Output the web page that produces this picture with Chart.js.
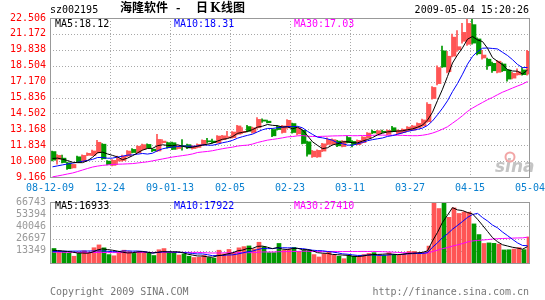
<!DOCTYPE html>
<html>
<head>
<meta charset="utf-8">
<script src="https://cdn.jsdelivr.net/npm/chart.js@4.4.0/dist/chart.umd.min.js"></script>
<style>
  html, body { margin: 0; padding: 0; background: #fff; }
  #wrap { position: relative; width: 545px; height: 300px; overflow: hidden; }
  canvas { position: absolute; left: 0; }
  #kline { top: 0; }
  #vol { top: 190px; }
</style>
</head>
<body>
<div id="wrap">
  <canvas id="kline" width="545" height="200"></canvas>
  <canvas id="vol" width="545" height="110"></canvas>
</div>
<script>
// tick labels
const xLabels = ['08-12-09', '12-24', '09-01-13', '02-05', '02-23', '03-11', '03-27', '04-15', '05-04'];
const priceTicks = [9.166, 10.500, 11.834, 13.168, 14.502, 15.836, 17.170, 18.504, 19.838, 21.172, 22.506];
const volTicks = [13349, 26697, 40046, 53394, 66743];

// daily candles, 96 trading days
const opens = [11.30, 10.65, 10.75, 10.36, 9.93, 10.86, 10.50, 10.98, 10.98, 11.20,
  11.92, 10.50, 10.14, 10.50, 10.55, 10.92, 11.48, 11.20, 11.48, 11.90,
  11.50, 11.35, 12.05, 12.05, 12.04, 11.55, 11.78, 11.88, 11.55, 11.65,
  11.85, 12.20, 12.18, 12.04, 12.30, 12.45, 12.47, 12.75, 12.90, 13.40,
  12.90, 13.30, 13.95, 13.85, 13.15, 13.40, 12.90, 13.30, 13.65, 12.78,
  13.08, 12.12, 10.86, 10.85, 11.34, 11.90, 11.95, 12.18, 11.72, 12.48,
  12.15, 11.88, 12.05, 12.45, 13.00, 12.80, 13.00, 12.75, 13.30, 12.80,
  12.90, 13.05, 13.10, 13.30, 13.45, 13.80, 15.75, 17.00, 19.75, 18.00,
  19.30, 19.85, 20.55, 20.30, 21.95, 20.75, 19.15, 19.05, 18.70, 17.95,
  18.65, 18.14, 17.46, 17.74, 18.15, 17.80];
const highs = [11.35, 11.05, 11.00, 10.42, 10.25, 10.92, 11.02, 11.20, 11.42, 12.25,
  11.98, 10.55, 10.62, 10.92, 11.00, 11.38, 11.55, 11.78, 11.92, 11.95,
  11.55, 12.75, 12.30, 12.10, 12.10, 11.80, 12.30, 11.92, 11.80, 11.95,
  12.28, 12.40, 12.35, 12.65, 12.66, 13.00, 12.98, 13.50, 13.32, 13.50,
  13.35, 14.15, 14.05, 13.95, 13.20, 13.50, 13.50, 13.98, 13.70, 13.35,
  13.10, 12.18, 11.40, 11.45, 12.00, 12.45, 12.36, 12.25, 12.22, 12.62,
  12.22, 12.28, 12.56, 12.90, 13.10, 13.08, 13.10, 13.12, 13.42, 13.12,
  13.20, 13.40, 13.50, 13.72, 14.02, 15.40, 16.75, 18.50, 20.15, 19.70,
  21.15, 21.45, 22.05, 22.50, 22.40, 20.85, 19.80, 19.15, 18.80, 18.95,
  18.75, 18.20, 17.95, 18.25, 18.35, 19.80];
const lows = [10.52, 10.25, 10.35, 9.80, 9.90, 10.38, 10.45, 10.95, 10.95, 11.15,
  10.65, 10.18, 10.10, 10.20, 10.50, 10.88, 11.18, 11.15, 11.40, 11.58,
  11.30, 11.30, 11.98, 11.58, 11.45, 11.50, 11.42, 11.55, 11.50, 11.60,
  11.80, 12.00, 12.00, 12.00, 12.25, 12.40, 12.42, 12.70, 12.80, 12.95,
  12.85, 13.25, 13.75, 13.70, 12.55, 13.10, 12.85, 13.25, 12.85, 12.70,
  11.94, 10.92, 10.80, 10.80, 11.30, 11.85, 11.90, 11.72, 11.68, 12.02,
  11.70, 11.85, 12.00, 12.40, 12.80, 12.75, 12.88, 12.72, 12.95, 12.75,
  12.85, 13.00, 13.05, 13.25, 13.40, 13.75, 15.70, 16.90, 18.36, 17.90,
  19.25, 19.70, 20.40, 20.20, 20.30, 19.40, 19.05, 18.20, 17.95, 17.90,
  18.00, 17.20, 17.40, 17.70, 17.70, 17.70];
const closes = [10.58, 10.98, 10.38, 9.86, 10.22, 10.42, 10.98, 11.15, 11.35, 12.08,
  10.70, 10.22, 10.56, 10.70, 10.92, 11.34, 11.22, 11.75, 11.88, 11.62,
  11.36, 12.32, 12.18, 11.62, 11.48, 11.76, 11.72, 11.60, 11.76, 11.90,
  12.24, 12.12, 12.05, 12.60, 12.62, 12.55, 12.94, 13.45, 13.00, 13.00,
  13.30, 14.00, 13.85, 13.72, 12.62, 13.15, 13.45, 13.92, 12.90, 13.28,
  11.98, 11.08, 11.34, 11.40, 11.95, 12.32, 12.30, 11.78, 12.18, 12.05,
  11.90, 12.24, 12.52, 12.85, 12.86, 13.05, 12.92, 13.08, 12.97, 13.08,
  13.17, 13.35, 13.45, 13.66, 13.95, 15.27, 16.68, 18.35, 18.40, 19.30,
  20.90, 20.10, 21.30, 22.05, 20.40, 19.50, 19.40, 18.50, 18.08, 18.88,
  18.08, 17.38, 17.86, 18.00, 17.75, 19.71];

// price moving averages
const ma5 = [10.72, 10.75, 10.66, 10.55, 10.40, 10.37, 10.37, 10.53, 10.82, 11.20,
  11.25, 11.10, 10.98, 10.85, 10.62, 10.75, 10.95, 11.19, 11.42, 11.56,
  11.57, 11.79, 11.87, 11.82, 11.79, 11.87, 11.75, 11.64, 11.66, 11.75,
  11.84, 11.92, 12.01, 12.18, 12.33, 12.39, 12.55, 12.83, 12.91, 12.99,
  13.14, 13.35, 13.43, 13.57, 13.50, 13.47, 13.36, 13.37, 13.21, 13.34,
  13.11, 12.63, 12.12, 11.82, 11.55, 11.62, 11.86, 11.95, 12.11, 12.13,
  12.04, 12.03, 12.18, 12.31, 12.47, 12.70, 12.84, 12.95, 12.98, 13.02,
  13.04, 13.13, 13.20, 13.34, 13.52, 13.94, 14.60, 15.58, 16.53, 17.60,
  18.73, 19.41, 20.00, 20.73, 20.95, 20.67, 20.53, 19.97, 19.18, 18.87,
  18.59, 18.18, 18.06, 18.04, 17.81, 18.14];
const ma10 = [10.02, 10.10, 10.18, 10.26, 10.33, 10.40, 10.48, 10.56, 10.64, 10.80,
  10.81, 10.74, 10.75, 10.84, 10.91, 11.00, 11.02, 11.08, 11.14, 11.09,
  11.16, 11.37, 11.53, 11.62, 11.68, 11.72, 11.77, 11.75, 11.74, 11.77,
  11.86, 11.84, 11.83, 11.92, 12.04, 12.12, 12.24, 12.42, 12.55, 12.66,
  12.76, 12.95, 13.13, 13.24, 13.24, 13.30, 13.35, 13.40, 13.39, 13.42,
  13.29, 13.00, 12.74, 12.51, 12.45, 12.36, 12.25, 12.03, 11.96, 11.84,
  11.83, 11.95, 12.06, 12.21, 12.30, 12.37, 12.44, 12.57, 12.64, 12.75,
  12.87, 12.99, 13.08, 13.16, 13.27, 13.49, 13.87, 14.39, 14.94, 15.56,
  16.33, 17.01, 17.79, 18.63, 19.28, 19.70, 19.97, 19.99, 19.95, 19.91,
  19.63, 19.36, 19.01, 18.61, 18.34, 18.36];
const ma30 = [9.18, 9.25, 9.33, 9.42, 9.50, 9.62, 9.75, 9.88, 10.00, 10.08,
  10.14, 10.18, 10.22, 10.24, 10.25, 10.27, 10.29, 10.34, 10.39, 10.44,
  10.52, 10.60, 10.68, 10.76, 10.84, 10.90, 10.96, 11.02, 11.10, 11.22,
  11.27, 11.31, 11.37, 11.46, 11.54, 11.61, 11.67, 11.76, 11.81, 11.84,
  11.93, 12.06, 12.16, 12.26, 12.32, 12.38, 12.45, 12.53, 12.56, 12.62,
  12.64, 12.59, 12.57, 12.56, 12.58, 12.59, 12.61, 12.62, 12.63, 12.64,
  12.63, 12.63, 12.65, 12.65, 12.66, 12.68, 12.68, 12.67, 12.67, 12.67,
  12.66, 12.64, 12.63, 12.63, 12.67, 12.74, 12.85, 13.00, 13.18, 13.38,
  13.68, 13.98, 14.31, 14.67, 14.95, 15.19, 15.42, 15.65, 15.84, 16.07,
  16.28, 16.45, 16.63, 16.80, 16.96, 17.18];

// volume and its moving averages
const volumes = [15900, 13300, 12700, 10800, 7400, 10500, 13300, 11300, 16700, 19800,
  16600, 9200, 7900, 11300, 14000, 12500, 10500, 12400, 12400, 11000,
  8200, 14500, 15800, 11300, 11300, 8700, 10000, 7400, 6000, 6200,
  8200, 6000, 5300, 14000, 10000, 14800, 11300, 16600, 17900, 18700,
  15300, 22700, 17900, 11300, 11300, 21400, 14000, 15300, 17100, 12700,
  14000, 14000, 9200, 6600, 10000, 12700, 8700, 7400, 4700, 8700,
  7400, 7400, 9200, 10500, 11300, 8700, 8200, 11300, 9200, 8700,
  10000, 12700, 12700, 11300, 11300, 18500, 66743, 59600, 66500, 50000,
  60300, 54200, 55800, 55600, 42800, 31100, 21400, 22000, 21500, 20600,
  14300, 14500, 15200, 16800, 14600, 28500];
const volMa5 = [14000, 13600, 13200, 12600, 12000, 10900, 10900, 10700, 11800, 14300,
  15500, 14700, 14000, 13000, 11800, 11000, 11200, 12100, 12400, 11800,
  10900, 11700, 12400, 12200, 12200, 12300, 11400, 9700, 8700, 7700,
  7600, 6800, 6300, 7900, 8700, 10000, 11100, 13300, 14100, 15900,
  16000, 18200, 18500, 17200, 15700, 16900, 15200, 14700, 15800, 16100,
  14600, 14600, 13400, 11300, 10800, 10500, 9400, 9100, 8700, 8400,
  7400, 7100, 7500, 8600, 9200, 9400, 9600, 10000, 9700, 9200,
  9500, 10400, 10700, 11100, 11600, 13300, 24100, 33500, 44500, 52300,
  60600, 58100, 57400, 55200, 53700, 47900, 41300, 34600, 27800, 23300,
  20000, 18600, 17200, 16300, 15100, 17900];
const volMa10 = [12600, 12700, 12800, 12900, 13000, 13000, 13100, 13100, 13200, 13200,
  13200, 12800, 12400, 12400, 13100, 13300, 13000, 13100, 12700, 11800,
  10900, 11500, 12300, 12300, 12000, 11600, 11600, 11100, 10400, 9900,
  9900, 9100, 8000, 8300, 8200, 8800, 8900, 9800, 11000, 12300,
  13000, 14700, 15900, 15700, 15800, 16400, 16700, 16600, 16500, 15900,
  15800, 14900, 14000, 13600, 13400, 12600, 12000, 11200, 10000, 9600,
  8900, 8300, 8300, 8700, 8800, 8400, 8400, 8700, 9200, 9200,
  9500, 10000, 10300, 10400, 10400, 11400, 17200, 22100, 27800, 31900,
  37000, 41100, 45400, 49900, 53000, 54300, 49700, 46000, 41500, 38500,
  33900, 30000, 25900, 22000, 19200, 18900];
const volMa30 = [11800, 11800, 11700, 11700, 11600, 11600, 11600, 11500, 11500, 11500,
  11500, 11400, 11400, 11400, 11400, 11400, 11500, 11500, 11500, 11500,
  11500, 11600, 11600, 11600, 11600, 11600, 11600, 11600, 11600, 11600,
  11400, 11100, 10900, 11000, 11100, 11200, 11200, 11300, 11400, 11300,
  11300, 11700, 12100, 12100, 12000, 12300, 12400, 12500, 12700, 12700,
  12900, 12900, 12700, 12500, 12500, 12600, 12600, 12600, 12500, 12600,
  12600, 12600, 12700, 12600, 12700, 12500, 12400, 12200, 11900, 11600,
  11400, 11100, 10900, 10900, 10900, 10800, 12500, 14000, 15700, 16900,
  18500, 19800, 21300, 23000, 24100, 24700, 25100, 25600, 26200, 26600,
  26800, 27000, 27200, 27400, 27500, 28200];

const UP = '#ff5555';
const DOWN = '#009900';
const GRID = '#a8a8a8';
const FRAME = '#999999';
const MONO = 'DejaVu Sans Mono';

Chart.defaults.font.family = MONO;
Chart.defaults.font.size = 10;

const idx = closes.map((c, i) => i);
const colors = closes.map((c, i) => (c >= opens[i] ? UP : DOWN));

function xScales(show) {
  return {
    x: {
      type: 'linear', min: -0.4, max: 95.6, offset: false, display: show,
      grid: { display: false, drawTicks: false, offset: false },
      border: { display: false },
      afterBuildTicks: s => { s.ticks = xLabels.map((_, k) => ({ value: k * 12 - 0.4 })); },
      afterFit: s => { s.height = 23; s.paddingLeft = 0; s.paddingRight = 0; },
      ticks: {
        autoSkip: false, maxRotation: 0, padding: 5, color: '#0a80d0',
        font: { family: MONO, size: 10 },
        callback: (v, i) => xLabels[i]
      }
    },
    x2: { type: 'linear', min: -0.5, max: 95.5, offset: false, display: false }
  };
}

function yScale(min, max, vals, color, fmt) {
  return {
    type: 'linear', min: min, max: max, position: 'left',
    grid: { display: false, drawTicks: false },
    border: { display: false },
    afterBuildTicks: s => { s.ticks = vals.map(v => ({ value: v })); },
    afterFit: s => { s.width = 50; },
    ticks: { padding: 4, color: color, font: { family: MONO, size: 10 }, callback: fmt }
  };
}

function line(values, color) {
  return {
    type: 'line', xAxisID: 'x2', yAxisID: 'y',
    data: idx.map(i => ({ x: i, y: values[i] })),
    borderColor: color, borderWidth: 1, pointRadius: 0, tension: 0, fill: false, order: 0
  };
}

function panelPlugin(gridVals, extra) {
  return {
    id: 'panel',
    beforeDatasetsDraw(chart) {
      const { ctx, chartArea: a, scales } = chart;
      const L = Math.round(a.left), R = Math.round(a.right), T = Math.round(a.top), B = Math.round(a.bottom);
      ctx.save();
      ctx.strokeStyle = GRID;
      ctx.lineWidth = 1;
      ctx.setLineDash([1, 2]);
      ctx.beginPath();
      gridVals.forEach(v => {
        const y = Math.round(scales.y.getPixelForValue(v)) + 0.5;
        ctx.moveTo(L, y); ctx.lineTo(R, y);
      });
      for (let k = 1; k < xLabels.length - 1; k++) {
        const x = Math.round(scales.x.getPixelForValue(k * 12 - 0.4)) + 0.5;
        ctx.moveTo(x, T); ctx.lineTo(x, B);
      }
      ctx.stroke();
      ctx.restore();
      if (extra.behind) extra.behind(ctx, a);
    },
    afterDatasetsDraw(chart) {
      const { ctx, chartArea: a } = chart;
      const L = Math.round(a.left), R = Math.round(a.right), T = Math.round(a.top), B = Math.round(a.bottom);
      ctx.save();
      ctx.strokeStyle = FRAME;
      ctx.lineWidth = 1;
      ctx.strokeRect(L + 0.5, T + 0.5, R - L - 1, B - T);
      ctx.restore();
      if (extra.front) extra.front(ctx, a);
    }
  };
}

function text(ctx, s, x, y, color, font, align) {
  ctx.save();
  ctx.fillStyle = color;
  ctx.font = font || '10px "DejaVu Sans Mono"';
  ctx.textAlign = align || 'left';
  ctx.textBaseline = 'alphabetic';
  ctx.fillText(s, x, y);
  ctx.restore();
}

const CJK = 'bold 12px "Noto Sans CJK SC"';

new Chart(document.getElementById('kline'), {
  type: 'bar',
  data: {
    datasets: [
      line(ma5, '#000000'),
      line(ma10, '#0000ff'),
      line(ma30, '#ff00ff'),
      {
        type: 'bar', xAxisID: 'x', yAxisID: 'y',
        data: idx.map(i => ({ x: i, y: [opens[i], closes[i]] })),
        backgroundColor: colors, barThickness: 4, minBarLength: 1, borderWidth: 0, order: 1
      },
      {
        type: 'bar', xAxisID: 'x2', yAxisID: 'y',
        data: idx.map(i => ({ x: i, y: [lows[i], highs[i]] })),
        backgroundColor: colors, barThickness: 1, minBarLength: 1, borderWidth: 0, order: 2
      }
    ]
  },
  options: {
    responsive: false, animation: false, events: [],
    layout: { padding: { left: 0, right: 15, top: 18, bottom: 0 } },
    plugins: { legend: { display: false }, tooltip: { enabled: false } },
    scales: Object.assign(xScales(true), {
      y: yScale(9.166, 22.506, priceTicks, '#ff0000', v => v.toFixed(3))
    })
  },
  plugins: [panelPlugin(priceTicks.slice(1, -1), {
    behind(ctx) {
      text(ctx, 'sina', 495, 172, '#c4c4c4', 'bold italic 17px "DejaVu Sans"');
      ctx.save();
      ctx.strokeStyle = '#f2a6a6';
      ctx.lineWidth = 2;
      ctx.beginPath();
      ctx.arc(510, 157, 4.5, 0, Math.PI * 2);
      ctx.stroke();
      ctx.restore();
    },
    front(ctx) {
      text(ctx, 'sz002195', 50, 13, '#000000');
      text(ctx, '海隆软件', 120, 12, '#000000', CJK);
      text(ctx, '-', 176, 12, '#000000', CJK);
      text(ctx, '日', 196, 12, '#000000', CJK);
      text(ctx, 'K', 210, 12, '#000000', 'bold 12px "DejaVu Serif"');
      text(ctx, '线图', 221, 12, '#000000', CJK);
      text(ctx, '2009-05-04 15:20:26', 529, 13, '#000000', null, 'right');
      text(ctx, 'MA5:18.12', 55, 27, '#000000');
      text(ctx, 'MA10:18.31', 174, 27, '#0000ff');
      text(ctx, 'MA30:17.03', 294, 27, '#ff00ff');
    }
  })]
});

new Chart(document.getElementById('vol'), {
  type: 'bar',
  data: {
    datasets: [
      line(volMa5, '#000000'),
      line(volMa10, '#0000ff'),
      line(volMa30, '#ff00ff'),
      {
        type: 'bar', xAxisID: 'x', yAxisID: 'y',
        data: idx.map(i => ({ x: i, y: volumes[i] })),
        backgroundColor: colors, barThickness: 4, borderWidth: 0, order: 1
      }
    ]
  },
  options: {
    responsive: false, animation: false, events: [],
    layout: { padding: { left: 0, right: 15, top: 12, bottom: 14 } },
    plugins: { legend: { display: false }, tooltip: { enabled: false } },
    scales: Object.assign(xScales(false), {
      y: yScale(0, 66743, volTicks, '#999999', v => String(v))
    })
  },
  plugins: [panelPlugin(volTicks.slice(0, -1), {
    front(ctx) {
      text(ctx, 'MA5:16933', 55, 19, '#000000');
      text(ctx, 'MA10:17922', 174, 19, '#0000ff');
      text(ctx, 'MA30:27410', 294, 19, '#ff00ff');
      text(ctx, 'Copyright 2009 SINA.COM', 50, 105, '#777777');
      text(ctx, 'http://finance.sina.com.cn', 529, 105, '#777777', null, 'right');
    }
  })]
});
</script>
</body>
</html>
